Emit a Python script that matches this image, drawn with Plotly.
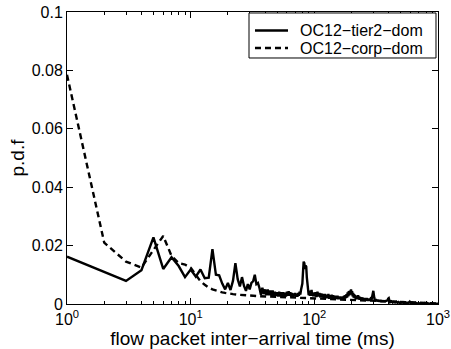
import plotly.graph_objects as go

# ---- data ----
tier2_x = ([1] + list(range(3, 101)) + list(range(102, 241, 2)) + list(range(245, 401, 5))
           + [405] + list(range(410, 501, 10)) + list(range(510, 601, 10))
           + list(range(620, 1001, 20)))
tier2_y = [
    0.0162,
    0.0079, 0.0116, 0.0228, 0.0120, 0.0160, 0.0130, 0.0092, 0.0118, 0.0094, 0.0118,
    0.0088, 0.0090, 0.0188, 0.0100, 0.0098, 0.0070, 0.0050, 0.0072, 0.0048, 0.0080,
    0.0140, 0.0085, 0.0060, 0.0092, 0.0062, 0.0045, 0.0068, 0.0050, 0.0072, 0.0078,
    0.0100, 0.0068, 0.0072,
    0.0055, 0.0032, 0.0056, 0.0034, 0.0050, 0.0030, 0.0050, 0.0030, 0.0046, 0.0028,
    0.0046, 0.0028, 0.0042, 0.0028, 0.0040, 0.0026, 0.0042, 0.0026, 0.0040, 0.0026,
    0.0040, 0.0025, 0.0038, 0.0026, 0.0042, 0.0028, 0.0044, 0.0028, 0.0040, 0.0025,
    0.0038, 0.0025, 0.0036, 0.0026, 0.0038, 0.0025, 0.0035, 0.0025, 0.0038, 0.0028,
    0.0042, 0.0032, 0.0048, 0.0055, 0.0070,
    0.0110, 0.0145, 0.0140, 0.0120, 0.0132, 0.0128, 0.0090,
    0.0060, 0.0040, 0.0030, 0.0042, 0.0028, 0.0046, 0.0030, 0.0048, 0.0028, 0.0040,
    0.0026, 0.0038, 0.0026,
    # 102..240 step 2
    0.0040, 0.0024, 0.0042, 0.0026, 0.0038, 0.0022, 0.0036, 0.0022, 0.0034, 0.0020,
    0.0034, 0.0020, 0.0032, 0.0020, 0.0034, 0.0018, 0.0030, 0.0020, 0.0032, 0.0018,
    0.0030, 0.0018, 0.0028, 0.0016, 0.0028, 0.0018, 0.0028, 0.0016, 0.0026, 0.0016,
    0.0026, 0.0016, 0.0024, 0.0016, 0.0026, 0.0016, 0.0028, 0.0018, 0.0030, 0.0020,
    0.0034, 0.0022, 0.0040, 0.0026, 0.0044, 0.0030, 0.0046, 0.0032, 0.0050, 0.0036,
    0.0044, 0.0026, 0.0038, 0.0022, 0.0034, 0.0020, 0.0030, 0.0018, 0.0028, 0.0016,
    0.0028, 0.0016, 0.0030, 0.0016, 0.0026, 0.0014, 0.0024, 0.0014, 0.0022, 0.0014,
    # 245..400 step 5
    0.0022, 0.0012, 0.0020, 0.0012, 0.0020, 0.0011, 0.0018, 0.0011, 0.0018, 0.0014,
    0.0030, 0.0045, 0.0022, 0.0010, 0.0016, 0.0009, 0.0015, 0.0008, 0.0014, 0.0008,
    0.0013, 0.0007, 0.0012, 0.0007, 0.0012, 0.0007, 0.0012, 0.0008, 0.0014, 0.0010,
    0.0018, 0.0020,
    # 405..500
    0.0012, 0.0006, 0.0009, 0.0005, 0.0008, 0.0005, 0.0008, 0.0004, 0.0007, 0.0004, 0.0006,
    # 510..600
    0.0004, 0.0006, 0.0003, 0.0005, 0.0003, 0.0005, 0.0003, 0.0005, 0.0008, 0.0003,
    # 620..1000 step 20
    0.0004, 0.0002, 0.0004, 0.0002, 0.0003, 0.0002, 0.0003, 0.0002, 0.0003, 0.0001,
    0.0003, 0.0001, 0.0002, 0.0001, 0.0002, 0.0001, 0.0002, 0.0001, 0.0001, 0.0001,
]

corp_x = [1, 2, 3, 4, 5, 6, 7, 8, 9, 10, 11, 12, 13, 14, 15, 16, 17, 18, 19, 20,
          22, 24, 26, 28, 30, 35, 40, 45, 50, 60, 70, 80, 90, 100, 120, 150, 200,
          250, 300, 400, 500, 600, 700, 800, 900, 1000]
corp_y = [0.0785, 0.0210, 0.0145, 0.0125, 0.0185, 0.0233, 0.0165, 0.0140, 0.0135, 0.0124,
          0.0100, 0.0078, 0.0066, 0.0056, 0.0050, 0.0046, 0.0042, 0.0040, 0.0038, 0.0036,
          0.0034, 0.0032, 0.0030, 0.0030, 0.0029, 0.0027, 0.0026, 0.0025, 0.0024, 0.0023,
          0.0022, 0.0021, 0.0020, 0.0019, 0.0017, 0.0015, 0.0013,
          0.0011, 0.0010, 0.0007, 0.0005, 0.0004, 0.0003, 0.0003, 0.0002, 0.0002]

series_names = ["OC12\u2212tier2\u2212dom", "OC12\u2212corp\u2212dom"]

x_tick_vals = [1, 10, 100, 1000]
x_tick_text = ["10<sup>0</sup>", "10<sup>1</sup>", "10<sup>2</sup>", "10<sup>3</sup>"]
x_minor_vals = [m * d for d in (1, 10, 100) for m in range(2, 10)]
y_tick_vals = [0, 0.02, 0.04, 0.06, 0.08, 0.1]
y_tick_text = ["0", "0.02", "0.04", "0.06", "0.08", "0.1"]

FONT = "Liberation Sans, Arial, Helvetica, sans-serif"
LW = 2.4
DASH = "6px,4px"

fig = go.Figure()
fig.add_trace(go.Scatter(x=tier2_x, y=tier2_y, mode="lines", name=series_names[0],
                         line=dict(color="black", width=LW)))
fig.add_trace(go.Scatter(x=corp_x, y=corp_y, mode="lines", name=series_names[1],
                         line=dict(color="black", width=LW, dash=DASH)))

# legend box drawn by hand (paper coordinates)
shapes = [dict(type="rect", xref="paper", yref="paper", x0=0.4906, x1=0.9946,
               y0=0.8425, y1=0.9966, line=dict(color="black", width=1),
               fillcolor="white", layer="above")]
annotations = []
rows_y = [0.9366, 0.8767]
dashes = ["solid", DASH]
for name, ry, d in zip(series_names, rows_y, dashes):
    shapes.append(dict(type="line", xref="paper", yref="paper", x0=0.5067, x1=0.5957,
                       y0=ry, y1=ry, line=dict(color="black", width=LW, dash=d),
                       layer="above"))
    annotations.append(dict(xref="paper", yref="paper", x=0.6226, y=ry, xanchor="left",
                            yanchor="middle", text=name, showarrow=False,
                            font=dict(size=16, color="black")))

fig.update_layout(
    width=451, height=349,
    margin=dict(l=67, r=13, t=12, b=45),
    paper_bgcolor="white", plot_bgcolor="white",
    font=dict(family=FONT, size=16, color="black"),
    showlegend=False,
    shapes=shapes, annotations=annotations,
    xaxis=dict(type="log", range=[0, 3], tickmode="array",
               tickvals=x_tick_vals, ticktext=x_tick_text, automargin=False,
               ticks="inside", ticklen=6, tickcolor="black", ticklabelstandoff=1,
               minor=dict(tickmode="array", tickvals=x_minor_vals, ticks="inside",
                          ticklen=3, tickcolor="black"),
               showline=True, linecolor="black", linewidth=1, mirror="ticks",
               showgrid=False, zeroline=False,
               title=dict(text="flow packet inter\u2212arrival time (ms)", standoff=0)),
    yaxis=dict(range=[0, 0.1], tickmode="array", tickvals=y_tick_vals, ticktext=y_tick_text,
               ticks="inside", ticklen=6, tickcolor="black", automargin=False,
               showline=True, linecolor="black", linewidth=1, mirror="ticks",
               showgrid=False, zeroline=False,
               title=dict(text="p.d.f", standoff=2)),
)

fig.write_html("out.html")
